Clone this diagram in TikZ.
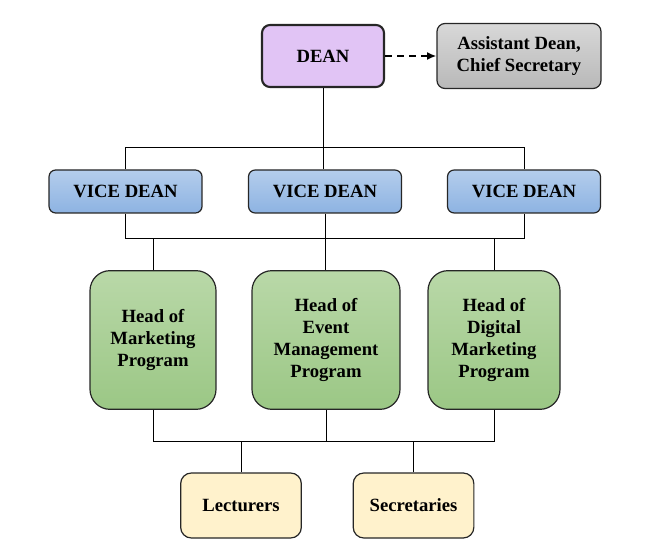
\documentclass[tikz,border=0pt]{standalone}
\usepackage{fontspec}
\setmainfont{Liberation Serif}
\usepackage{tikz}
\usetikzlibrary{shapes, arrows, arrows.meta}
\definecolor{deanfill}{RGB}{225,196,245}
\definecolor{asstTop}{RGB}{216,216,216}
\definecolor{asstBot}{RGB}{184,184,184}
\definecolor{viceTop}{RGB}{180,205,236}
\definecolor{viceBot}{RGB}{141,179,226}
\definecolor{headTop}{RGB}{185,216,168}
\definecolor{headBot}{RGB}{155,199,133}
\definecolor{stafffill}{RGB}{255,242,204}
\tikzstyle{box} = [rectangle, draw=black!85, line width=0.9pt, align=center,
    font=\bfseries\fontsize{14}{16.5}\selectfont]
\tikzstyle{dean} = [box, fill=deanfill, line width=1.6pt, rounded corners=6pt,
    minimum width=91.5pt, minimum height=46.5pt]
\tikzstyle{assistant} = [box, top color=asstTop, bottom color=asstBot, rounded corners=6pt,
    minimum width=123pt, minimum height=48.75pt]
\tikzstyle{vice} = [box, top color=viceTop, bottom color=viceBot, rounded corners=5pt,
    minimum width=114.75pt, minimum height=32.25pt]
\tikzstyle{head} = [box, top color=headTop, bottom color=headBot, rounded corners=15pt,
    minimum height=104pt]
\tikzstyle{staff} = [box, fill=stafffill, rounded corners=8pt,
    minimum width=90.5pt, minimum height=48.75pt]
\tikzstyle{line} = [draw, line width=0.75pt]
\tikzstyle{dashline} = [draw, dashed, line width=1.3pt, dash pattern=on 5pt off 4pt, -{Latex[length=7pt,width=6pt]}]

\begin{document}
\begin{tikzpicture}[x=0.75pt, y=-0.75pt]
    \useasboundingbox (0,0) rectangle (646,559);
    % Nodes
    \node [dean] (dean) at (323,56) {DEAN};
    \node [assistant, right of=dean, node distance=147pt] (asst) {Assistant Dean,\\Chief Secretary};
    \node [vice] (vd2) at (325,191.5) {VICE DEAN};
    \node [vice, left of=vd2, node distance=149.6pt] (vd1) {VICE DEAN};
    \node [vice, right of=vd2, node distance=149.25pt] (vd3) {VICE DEAN};
    \node [head, minimum width=111pt] (h2) at (326,340) {Head of\\Event\\Management\\Program};
    \node [head, minimum width=94.5pt, left of=h2, node distance=129.75pt] (h1) {Head of\\Marketing\\Program};
    \node [head, minimum width=99pt, right of=h2, node distance=126pt] (h3) {Head of\\Digital\\Marketing\\Program};
    \node [staff] (lect) at (241,505.5) {Lecturers};
    \node [staff, right of=lect, node distance=129.4pt] (secr) {Secretaries};
    \coordinate (bus1) at (0,148);
    \coordinate (bus2) at (0,239);
    \coordinate (bus3) at (0,441);
    % Edges
    \path [dashline] (dean.east) -- (dean.east -| asst.west);
    \path [line] (dean.south) -- (dean.south |- vd2.north);
    \path [line] (vd1.north) -- (vd1.north |- bus1) -| (vd3.north);
    \path [line] (vd1.south) -- (vd1.south |- bus2) -| (vd3.south);
    \path [line] (vd2.south) -- (vd2.south |- h2.north);
    \path [line] (h1.north) -- (h1.north |- bus2);
    \path [line] (h3.north) -- (h3.north |- bus2);
    \path [line] (h1.south) -- (h1.south |- bus3) -| (h3.south);
    \path [line] (h2.south) -- (h2.south |- bus3);
    \path [line] (lect.north) -- (lect.north |- bus3);
    \path [line] (secr.north) -- (secr.north |- bus3);
\end{tikzpicture}
\end{document}
